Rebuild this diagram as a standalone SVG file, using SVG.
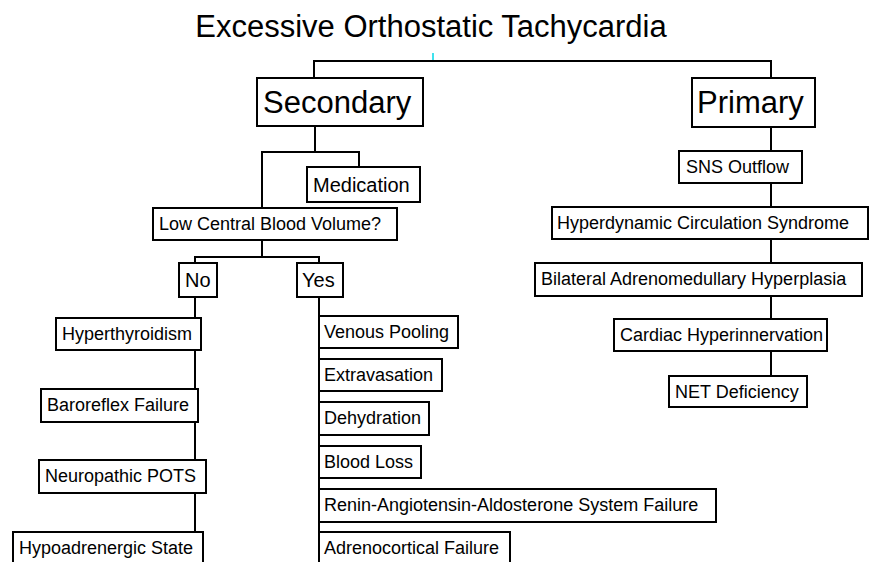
<svg xmlns="http://www.w3.org/2000/svg" width="869" height="562" viewBox="0 0 869 562">
  <style>
    .box { fill: #ffffff; stroke: #000000; stroke-width: 2; }
    .wire { fill: none; stroke: #000000; stroke-width: 2; }
    text { font-family: "Liberation Sans", Arial, sans-serif; fill: #000000; }
    .t18 { font-size: 18px; }
    .t20 { font-size: 20px; }
    .t31 { font-size: 31px; }
  </style>
  <rect width="869" height="562" fill="#ffffff"/>

  <text id="title" class="t31" x="431" y="37" text-anchor="middle">Excessive Orthostatic Tachycardia</text>
  <line x1="433" y1="53" x2="433" y2="62" stroke="#00d8e8" stroke-width="1.5"/>

  <!-- connectors -->
  <g id="connectors">
    <path class="wire" d="M314,78 V61 H771 V78"/>
    <path class="wire" d="M315,126 V152 M262,208 V152 H359 V167"/>
    <path class="wire" d="M262,240 V257 M195,263 V257 H319 V263"/>
    <path class="wire" d="M195,297 V532"/>
    <path class="wire" d="M319,297 V562"/>
    <path class="wire" d="M771,127 V376"/>
  </g>

  <!-- secondary branch -->
  <g id="secondary"><rect class="box" x="257" y="78" width="166" height="48"/><text class="t31" x="263" y="113">Secondary</text></g>
  <g id="medication"><rect class="box" x="307" y="167" width="113" height="35"/><text class="t20" x="313" y="192">Medication</text></g>
  <g id="low-cbv"><rect class="box" x="153" y="208" width="244" height="32"/><text class="t18" x="159" y="230">Low Central Blood Volume?</text></g>
  <g id="no"><rect class="box" x="179" y="263" width="38" height="34"/><text class="t20" x="185" y="287">No</text></g>
  <g id="yes"><rect class="box" x="297" y="263" width="46" height="34"/><text class="t20" x="302" y="287">Yes</text></g>

  <!-- "No" column -->
  <g id="hyperthyroidism"><rect class="box" x="56" y="318" width="145" height="32"/><text class="t18" x="62" y="340">Hyperthyroidism</text></g>
  <g id="baroreflex"><rect class="box" x="41" y="389" width="157" height="33"/><text class="t18" x="47" y="411">Baroreflex Failure</text></g>
  <g id="neuropathic"><rect class="box" x="39" y="460" width="167" height="33"/><text class="t18" x="45" y="482">Neuropathic POTS</text></g>
  <g id="hypoadrenergic"><rect class="box" x="13" y="532" width="190" height="40"/><text class="t18" x="19" y="554">Hypoadrenergic State</text></g>

  <!-- "Yes" column -->
  <g id="venous"><rect class="box" x="319" y="316" width="139" height="32"/><text class="t18" x="324" y="338">Venous Pooling</text></g>
  <g id="extravasation"><rect class="box" x="319" y="359" width="123" height="32"/><text class="t18" x="324" y="381">Extravasation</text></g>
  <g id="dehydration"><rect class="box" x="319" y="402" width="110" height="33"/><text class="t18" x="324" y="424">Dehydration</text></g>
  <g id="blood-loss"><rect class="box" x="319" y="446" width="102" height="32"/><text class="t18" x="324" y="468">Blood Loss</text></g>
  <g id="raas"><rect class="box" x="319" y="489" width="397" height="33"/><text class="t18" x="324" y="511">Renin-Angiotensin-Aldosterone System Failure</text></g>
  <g id="adrenocortical"><rect class="box" x="319" y="532" width="191" height="40"/><text class="t18" x="324" y="554">Adrenocortical Failure</text></g>

  <!-- primary branch -->
  <g id="primary"><rect class="box" x="692" y="78" width="123" height="49"/><text class="t31" x="697" y="113">Primary</text></g>
  <g id="sns"><rect class="box" x="679" y="151" width="123" height="32"/><text class="t18" x="686" y="173">SNS Outflow</text></g>
  <g id="hyperdynamic"><rect class="box" x="552" y="207" width="316" height="32"/><text class="t18" x="557" y="229">Hyperdynamic Circulation Syndrome</text></g>
  <g id="bilateral"><rect class="box" x="535" y="263" width="327" height="33"/><text class="t18" x="541" y="285">Bilateral Adrenomedullary Hyperplasia</text></g>
  <g id="cardiac"><rect class="box" x="614" y="319" width="213" height="32"/><text class="t18" x="620" y="341">Cardiac Hyperinnervation</text></g>
  <g id="net"><rect class="box" x="669" y="376" width="138" height="31"/><text class="t18" x="675" y="398">NET Deficiency</text></g>
</svg>
